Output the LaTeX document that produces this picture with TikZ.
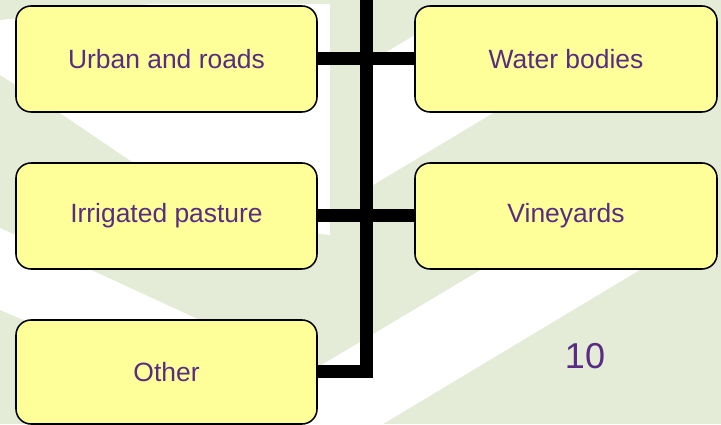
\documentclass[tikz,border=0pt]{standalone}
\usepackage{fontspec}
\setmainfont{Liberation Sans}
\definecolor{bggreen}{HTML}{E4EBD6}
\definecolor{boxyellow}{HTML}{FFFF99}
\definecolor{labelpurple}{RGB}{88,44,131}
\begin{document}
\begin{tikzpicture}[inner sep=0pt,outer sep=0pt,
landbox/.style={draw,rectangle,rounded corners=0.375cm,fill=boxyellow,text=labelpurple,minimum width=7.525cm,minimum height=2.65cm,line width=1.1pt,font=\fontsize{18.8}{22}\selectfont},
trunk/.style={line width=0.325cm}]
\useasboundingbox (0,0) rectangle (18.025,10.6);
\fill[bggreen] (0,0) rectangle (18.025,10.6);
\begin{scope}[x=0.025cm,y=-0.025cm,shift={(0cm,10.6cm)}]
\fill[white] (0,20) -- (150,4) -- (330,4) -- (330,235) -- (225,225) -- (60,113) -- (0,75) -- cycle;
\fill[white] (0,228) -- (373,400) -- (373,470) -- (0,310) -- cycle;
\fill[white] (360,68) -- (460,8) -- (600,8) -- (600,49) -- (360,193) -- cycle;
\fill[white] (300,378) -- (660,163) -- (660,258) -- (300,474) -- cycle;
\end{scope}
\draw (4.1625,9.125) node[landbox] (urban) {Urban and roads};
\draw (14.15,9.125) node[landbox,minimum width=7.55cm] (water) {Water bodies};
\draw (4.1625,5.2) node[landbox] (pasture) {Irrigated pasture};
\draw (14.15,5.2) node[landbox,minimum width=7.55cm] (vine) {Vineyards};
\draw (4.1625,1.3) node[landbox,minimum height=2.6cm] (other) {Other};
\coordinate (top) at (9.1625,10.6);
\draw[trunk] (urban.east) -- (water.west);
\draw[trunk] (pasture.east) -- (vine.west);
\draw[trunk] (other.east) -| (top);
\draw (14.625,1.4) node[anchor=base,text=labelpurple,font=\fontsize{25.6}{30}\selectfont] (page) {10};
\end{tikzpicture}
\end{document}
